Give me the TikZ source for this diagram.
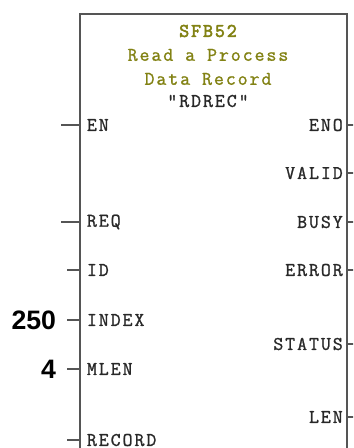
\documentclass[tikz,border=0pt]{standalone}
\usepackage{fontspec}
\setmainfont{Liberation Sans}
\newfontfamily\plcfont[LetterSpace=10, FakeBold=1.2]{Latin Modern Mono}
\newfontfamily\plcbold[LetterSpace=10, FakeBold=3]{Latin Modern Mono}
\usepackage{tikz}
\usetikzlibrary{positioning}
\definecolor{fbline}{RGB}{85,85,85}
\definecolor{fbtext}{RGB}{40,40,40}
\definecolor{fbolive}{RGB}{130,130,20}
\tikzset{
  fb/.style={draw=fbline, line width=1.5pt},
  stub/.style={draw=fbline, line width=1.1pt},
  pinl/.style={inner sep=0pt, text=fbtext, font=\plcfont\fontsize{14.5}{16}\selectfont},
  ttl/.style={pinl, text=fbolive},
  val/.style={inner sep=0pt, anchor=east, text=black, font=\bfseries\fontsize{20}{22}\selectfont},
}

\begin{document}
\begin{tikzpicture}[x=0.75pt, y=-0.75pt]
\useasboundingbox (0,0) rectangle (353,448);
\clip (0,0) rectangle (353,448);
% function block, open at the bottom
\coordinate (fbnw) at (80,14);
\coordinate (fbse) at (347,470);
\draw[fb] (fbnw) rectangle (fbse);
% header
\node[ttl, font=\plcbold\fontsize{14.5}{16}\selectfont] (sfb) at (208,31) {SFB52};
\node[ttl] (desc1) at (208,55) {Read a Process};
\node[ttl] (desc2) at (208,79) {Data Record};
\node[pinl] (inst) at (208,101) {"RDREC"};
% inputs
\coordinate (en) at (80,125);    \coordinate (en-w) at (61,125);
\coordinate (req) at (80,222);   \coordinate (req-w) at (61,222);
\coordinate (id) at (80,270);    \coordinate (id-w) at (67,270);
\coordinate (index) at (80,320); \coordinate (index-w) at (67,320);
\coordinate (mlen) at (80,369);  \coordinate (mlen-w) at (67,369);
\coordinate (rec) at (80,440);   \coordinate (rec-w) at (67,440);
\draw[stub] (en-w) -- (en);
\draw[stub] (req-w) -- (req);
\draw[stub] (id-w) -- (id);
\draw[stub] (index-w) -- (index);
\draw[stub] (mlen-w) -- (mlen);
\draw[stub] (rec-w) -- (rec);
\node[pinl, right=5pt of en] (enl) {EN};
\node[pinl, right=5pt of req] (reql) {REQ};
\node[pinl, right=5pt of id] (idl) {ID};
\node[pinl, right=5pt of index] (indexl) {INDEX};
\node[pinl, right=5pt of mlen] (mlenl) {MLEN};
\node[pinl, right=5pt of rec] (recl) {RECORD};
\node[val, left=8pt of index-w] (v250) {250};
\node[val, left=8pt of mlen-w] (v4) {4};
% outputs
\coordinate (eno) at (347,125);    \coordinate (eno-e) at (355,125);
\coordinate (valid) at (347,173);  \coordinate (valid-e) at (355,173);
\coordinate (busy) at (347,222);   \coordinate (busy-e) at (355,222);
\coordinate (err) at (347,270);    \coordinate (err-e) at (355,270);
\coordinate (stat) at (347,344);   \coordinate (stat-e) at (355,344);
\coordinate (len) at (347,417);    \coordinate (len-e) at (355,417);
\draw[stub] (eno) -- (eno-e);
\draw[stub] (valid) -- (valid-e);
\draw[stub] (busy) -- (busy-e);
\draw[stub] (err) -- (err-e);
\draw[stub] (stat) -- (stat-e);
\draw[stub] (len) -- (len-e);
\node[pinl, left=3pt of eno] (enol) {ENO};
\node[pinl, left=3pt of valid] (validl) {VALID};
\node[pinl, left=3pt of busy] (busyl) {BUSY};
\node[pinl, left=3pt of err] (errl) {ERROR};
\node[pinl, left=3pt of stat] (statl) {STATUS};
\node[pinl, left=3pt of len] (lenl) {LEN};
\end{tikzpicture}
\end{document}
